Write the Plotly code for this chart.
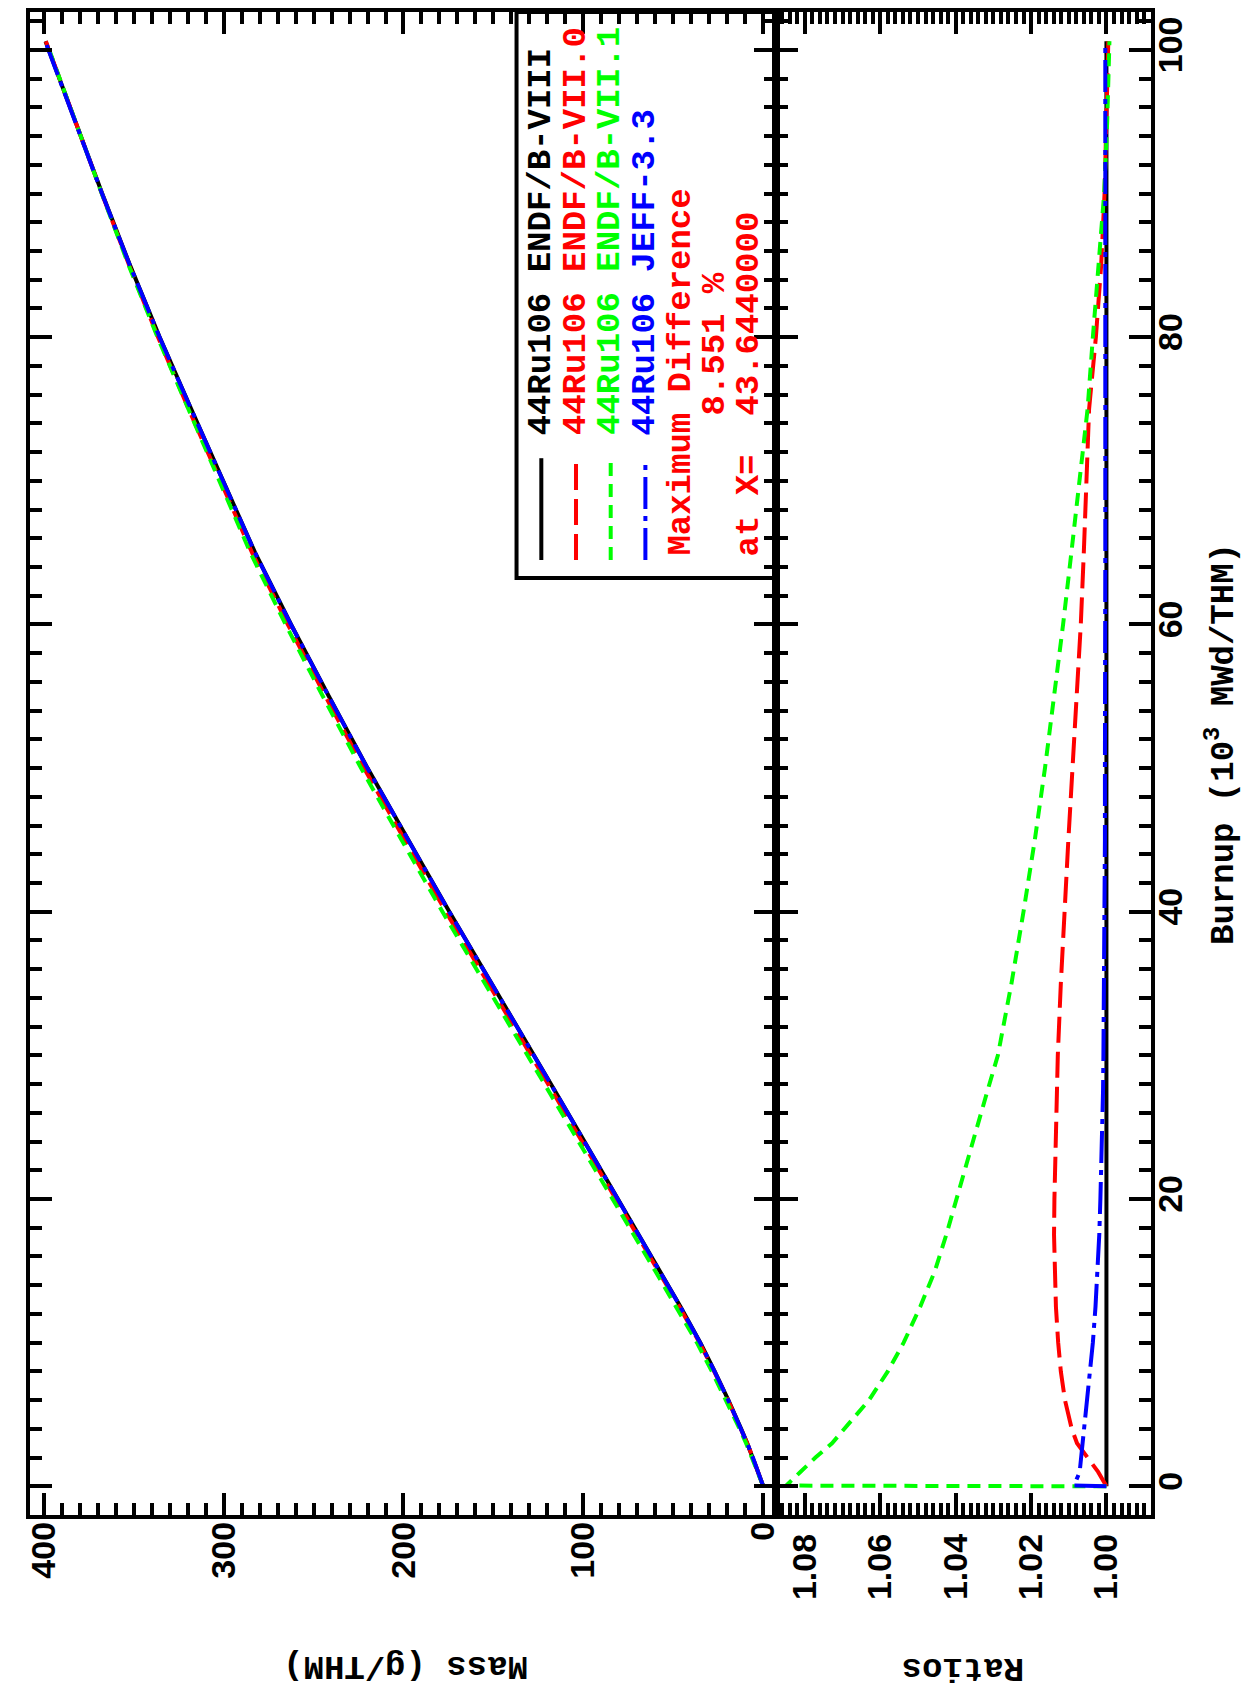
import plotly.graph_objects as go

# ---------------- data ----------------
burnup = [0, 0.05, 1, 2, 3, 4, 5, 6, 8, 10, 12.5, 15, 17.5, 20, 22.5, 25, 27.5, 30,
          35, 40, 45, 50, 55, 60, 65, 70, 75, 80, 85, 90, 95, 100.6]

mass_endf8 = [0, 0.14, 2.85, 5.75, 8.9, 12.3, 15.8, 19.4, 27.0, 35.0, 46.0, 57.5, 69.0, 80.5,
              92.2, 104.0, 115.7, 127.5, 151.0, 174.5, 197.3, 220.0, 241.5, 262.5, 282.5,
              300.5, 318.0, 335.5, 352.0, 367.5, 382.5, 399.0]
mass_endf70 = [0, 0.14, 2.86, 5.78, 8.97, 12.41, 15.96, 19.61, 27.33, 35.45, 46.62, 58.29,
               69.96, 81.61, 93.45, 105.39, 117.23, 129.14, 152.83, 176.45, 199.29, 221.98,
               243.41, 264.29, 284.19, 302.12, 319.46, 336.44, 352.49, 367.68, 382.5, 398.8]
mass_endf71 = [0, 0.15, 3.08, 6.19, 9.55, 13.15, 16.85, 20.62, 28.57, 36.88, 48.27, 60.12,
               71.93, 83.70, 95.61, 107.59, 119.36, 131.17, 154.81, 178.34, 201.05, 223.59,
               244.83, 265.52, 285.13, 302.63, 319.59, 336.71, 352.77, 367.72, 382.42, 398.68]
mass_jeff33 = [0, 0.14, 2.87, 5.79, 8.96, 12.37, 15.89, 19.50, 27.12, 35.13, 46.13, 57.63,
               69.13, 80.63, 92.32, 104.11, 115.80, 127.60, 151.09, 174.59, 197.38, 220.09,
               241.57, 262.58, 282.58, 300.59, 318.10, 335.60, 352.11, 367.61, 382.61, 399.12]

ratio_endf8 = [1.0] * len(burnup)
ratio_endf70 = [1.0, 1.0001, 1.0022, 1.0050, 1.0078, 1.0092, 1.0102, 1.0110, 1.0121, 1.0128,
                1.0134, 1.0137, 1.0139, 1.0138, 1.0136, 1.0134, 1.0132, 1.0129, 1.0121, 1.0112,
                1.0101, 1.0090, 1.0079, 1.0068, 1.0060, 1.0054, 1.0046, 1.0028, 1.0014, 1.0005,
                1.0000, 0.9995]
ratio_endf71 = [1.0, 1.0850, 1.0812, 1.0772, 1.0728, 1.0695, 1.0665, 1.0630, 1.0580, 1.0538,
                1.0494, 1.0455, 1.0425, 1.0398, 1.0370, 1.0345, 1.0316, 1.0288, 1.0252, 1.0220,
                1.0190, 1.0163, 1.0138, 1.0115, 1.0093, 1.0071, 1.0050, 1.0036, 1.0022, 1.0006,
                0.9998, 0.9992]
ratio_jeff33 = [1.0, 1.0086, 1.0071, 1.0067, 1.0063, 1.0059, 1.0055, 1.0052, 1.0044, 1.0036,
                1.0029, 1.0023, 1.0019, 1.0016, 1.0013, 1.0011, 1.0009, 1.0008, 1.0006, 1.0005,
                1.0004, 1.0004, 1.0003, 1.0003, 1.0003, 1.0003, 1.0003, 1.0003, 1.0003, 1.0003,
                1.0003, 1.0003]

legend_labels = ["44Ru106 ENDF/B-VIII", "44Ru106 ENDF/B-VII.0",
                 "44Ru106 ENDF/B-VII.1", "44Ru106 JEFF-3.3"]
max_diff_text = "8.551 %"
max_at_text = "43.6440000"

# ---------------- styling ----------------
W, H = 1250, 1687
def px(x): return x / W
def py(y): return 1 - y / H

colors = ["#000000", "#ff0000", "#00ff00", "#0000ff"]
dashes = ["solid", "26px,9px", "13px,8px", "32px,7px,5px,7px"]
LW = 4
MONO = "Liberation Mono"
SANS = "Liberation Sans"

fig = go.Figure()
masses = [mass_endf8, mass_endf70, mass_endf71, mass_jeff33]
ratios = [ratio_endf8, ratio_endf70, ratio_endf71, ratio_jeff33]
for m, c, d, lab in zip(masses, colors, dashes, legend_labels):
    fig.add_trace(go.Scatter(x=m, y=burnup, mode="lines", name=lab,
                             line=dict(color=c, width=LW, dash=d),
                             xaxis="x", yaxis="y", showlegend=False))
for r, c, d, lab in zip(ratios, colors, dashes, legend_labels):
    fig.add_trace(go.Scatter(x=r, y=burnup, mode="lines", name=lab,
                             line=dict(color=c, width=LW, dash=d),
                             xaxis="x2", yaxis="y2", showlegend=False))

common = dict(showline=True, linewidth=LW, linecolor="black", mirror="ticks",
              ticks="inside", ticklen=22, tickwidth=LW, tickcolor="black",
              showgrid=False, zeroline=False)

tickfont = dict(family=SANS, size=34, color="black", weight="bold")

fig.update_layout(
    width=W, height=H,
    margin=dict(l=0, r=0, t=0, b=0),
    paper_bgcolor="white", plot_bgcolor="white",
    xaxis=dict(domain=[px(16), px(769)], range=[407.7, -7.2], anchor="y",
               tick0=0, dtick=100, tickangle=-90, tickfont=tickfont,
               ticklabelstandoff=-11,
               minor=dict(dtick=10, ticklen=12, tickwidth=LW, ticks="inside",
                          tickcolor="black"),
               **common),
    yaxis=dict(domain=[py(1507), py(1)], range=[-2.02, 102.64], anchor="x",
               tick0=0, dtick=20, showticklabels=False,
               minor=dict(dtick=2, ticklen=12, tickwidth=LW, ticks="inside",
                          tickcolor="black"),
               **common),
    xaxis2=dict(domain=[px(769), px(1147)], range=[1.0876, 0.9882], anchor="y2",
                tick0=1.0, dtick=0.02, tickformat=".2f", tickangle=-90,
                tickfont=tickfont, ticklabelstandoff=1,
                minor=dict(dtick=0.002, ticklen=12, tickwidth=LW, ticks="inside",
                           tickcolor="black"),
                **common),
    yaxis2=dict(domain=[py(1507), py(1)], matches="y", anchor="x2", side="right",
                tick0=0, dtick=20, tickangle=-90, tickfont=tickfont,
                ticklabelstandoff=-14,
                minor=dict(dtick=2, ticklen=12, tickwidth=LW, ticks="inside",
                           tickcolor="black"),
                **common),
)

shapes = []
# legend frame
shapes.append(dict(type="rect", xref="paper", yref="paper",
                   x0=px(507), x1=px(769), y0=py(568), y1=py(1),
                   line=dict(color="black", width=LW), fillcolor="rgba(0,0,0,0)"))
row_x = [532, 567, 602, 637]
for xc, c, d in zip(row_x, colors, dashes):
    shapes.append(dict(type="line", xref="paper", yref="paper",
                       x0=px(xc), x1=px(xc), y0=py(550), y1=py(448),
                       line=dict(color=c, width=LW, dash=d)))
fig.update_layout(shapes=shapes)

ann = []
FS = 34
lfont = lambda c: dict(family=MONO, size=FS, color=c, weight="bold")
def rot_text(text, xc, ybot, color):
    return dict(text=text, x=px(xc), y=py(ybot), xref="paper", yref="paper",
                xanchor="center", yanchor="bottom", textangle=-90,
                showarrow=False, font=lfont(color))
for xc, c, lab in zip(row_x, colors, legend_labels):
    ann.append(rot_text(lab, xc, 427, c))
ann.append(rot_text("Maximum Difference", 672, 548, "#ff0000"))
ann.append(rot_text(max_diff_text, 707, 407, "#ff0000"))
ann.append(rot_text("at X=", 742, 548, "#ff0000"))
ann.append(rot_text(max_at_text, 742, 407, "#ff0000"))
# axis titles
ann.append(dict(text="Burnup (10<sup>3</sup> MWd/THM)", x=px(1217), y=py(734),
                xref="paper", yref="paper", xanchor="center", yanchor="middle",
                textangle=-90, showarrow=False, font=lfont("black")))
ann.append(dict(text="Mass (g/THM)", x=px(395), y=py(1658),
                xref="paper", yref="paper", xanchor="center", yanchor="middle",
                textangle=180, showarrow=False, font=lfont("black")))
ann.append(dict(text="Ratios", x=px(958), y=py(1660),
                xref="paper", yref="paper", xanchor="center", yanchor="middle",
                textangle=180, showarrow=False, font=lfont("black")))
fig.update_layout(annotations=ann)

fig.write_html("out.html")
